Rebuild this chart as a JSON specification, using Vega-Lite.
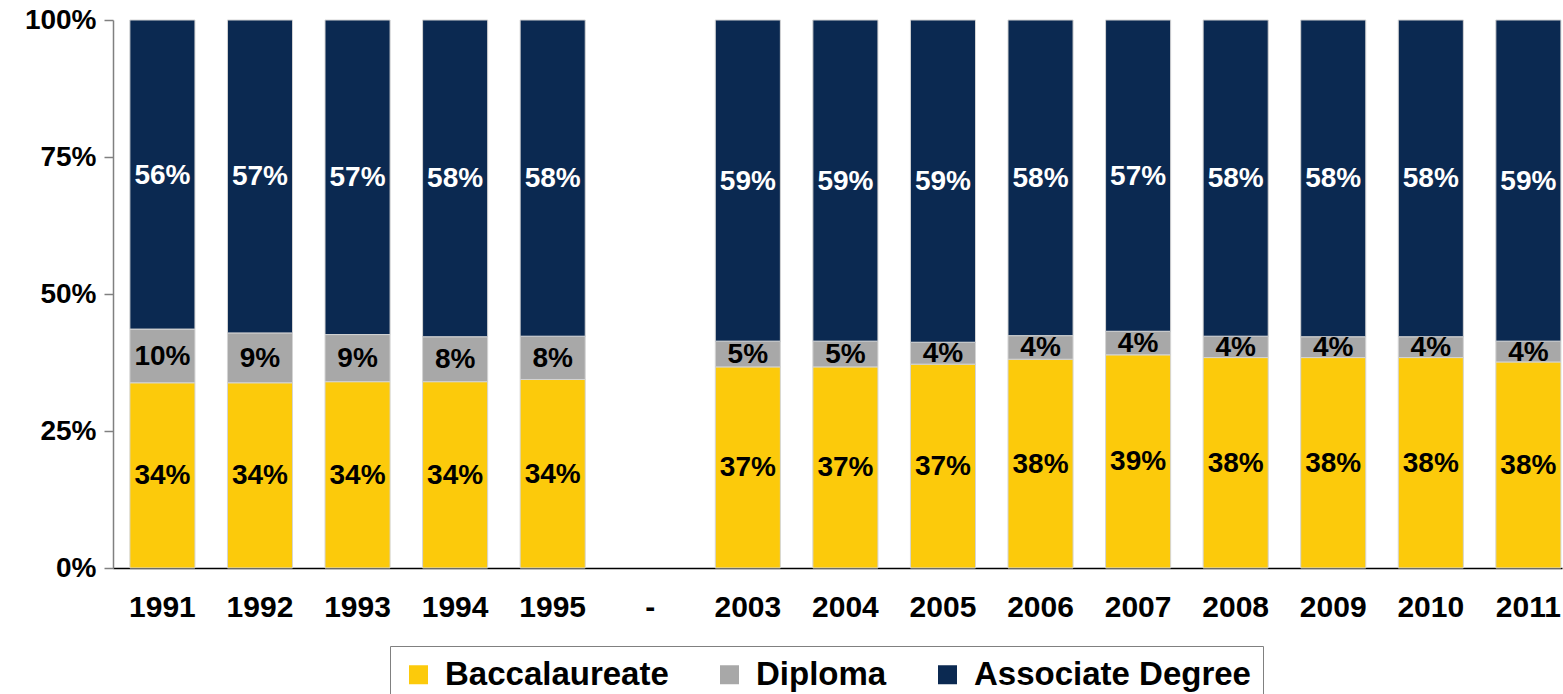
{
  "$schema": "https://vega.github.io/schema/vega-lite/v6.json",
  "autosize": {"type": "none"},
  "width": 1449,
  "height": 548,
  "padding": {"left": 113, "top": 20, "right": 1, "bottom": 126},
  "background": "white",
  "config": {"view": {"stroke": null}, "font": "Liberation Sans"},
  "data": {
    "values": [
      {"year": "1991", "type": "Baccalaureate", "k": 1, "v": 0.338},
      {"year": "1991", "type": "Diploma", "k": 2, "v": 0.098},
      {"year": "1991", "type": "Associate Degree", "k": 3, "v": 0.564},
      {"year": "1992", "type": "Baccalaureate", "k": 1, "v": 0.338},
      {"year": "1992", "type": "Diploma", "k": 2, "v": 0.091},
      {"year": "1992", "type": "Associate Degree", "k": 3, "v": 0.571},
      {"year": "1993", "type": "Baccalaureate", "k": 1, "v": 0.340},
      {"year": "1993", "type": "Diploma", "k": 2, "v": 0.086},
      {"year": "1993", "type": "Associate Degree", "k": 3, "v": 0.574},
      {"year": "1994", "type": "Baccalaureate", "k": 1, "v": 0.340},
      {"year": "1994", "type": "Diploma", "k": 2, "v": 0.082},
      {"year": "1994", "type": "Associate Degree", "k": 3, "v": 0.578},
      {"year": "1995", "type": "Baccalaureate", "k": 1, "v": 0.344},
      {"year": "1995", "type": "Diploma", "k": 2, "v": 0.079},
      {"year": "1995", "type": "Associate Degree", "k": 3, "v": 0.577},
      {"year": "2003", "type": "Baccalaureate", "k": 1, "v": 0.367},
      {"year": "2003", "type": "Diploma", "k": 2, "v": 0.047},
      {"year": "2003", "type": "Associate Degree", "k": 3, "v": 0.586},
      {"year": "2004", "type": "Baccalaureate", "k": 1, "v": 0.367},
      {"year": "2004", "type": "Diploma", "k": 2, "v": 0.047},
      {"year": "2004", "type": "Associate Degree", "k": 3, "v": 0.586},
      {"year": "2005", "type": "Baccalaureate", "k": 1, "v": 0.372},
      {"year": "2005", "type": "Diploma", "k": 2, "v": 0.040},
      {"year": "2005", "type": "Associate Degree", "k": 3, "v": 0.588},
      {"year": "2006", "type": "Baccalaureate", "k": 1, "v": 0.381},
      {"year": "2006", "type": "Diploma", "k": 2, "v": 0.043},
      {"year": "2006", "type": "Associate Degree", "k": 3, "v": 0.576},
      {"year": "2007", "type": "Baccalaureate", "k": 1, "v": 0.389},
      {"year": "2007", "type": "Diploma", "k": 2, "v": 0.043},
      {"year": "2007", "type": "Associate Degree", "k": 3, "v": 0.568},
      {"year": "2008", "type": "Baccalaureate", "k": 1, "v": 0.384},
      {"year": "2008", "type": "Diploma", "k": 2, "v": 0.039},
      {"year": "2008", "type": "Associate Degree", "k": 3, "v": 0.577},
      {"year": "2009", "type": "Baccalaureate", "k": 1, "v": 0.384},
      {"year": "2009", "type": "Diploma", "k": 2, "v": 0.038},
      {"year": "2009", "type": "Associate Degree", "k": 3, "v": 0.578},
      {"year": "2010", "type": "Baccalaureate", "k": 1, "v": 0.384},
      {"year": "2010", "type": "Diploma", "k": 2, "v": 0.038},
      {"year": "2010", "type": "Associate Degree", "k": 3, "v": 0.578},
      {"year": "2011", "type": "Baccalaureate", "k": 1, "v": 0.376},
      {"year": "2011", "type": "Diploma", "k": 2, "v": 0.038},
      {"year": "2011", "type": "Associate Degree", "k": 3, "v": 0.586}
    ]
  },
  "encoding": {
    "x": {
      "field": "year",
      "type": "nominal",
      "sort": null,
      "scale": {
        "type": "band",
        "domain": ["1991", "1992", "1993", "1994", "1995", "-", "2003", "2004", "2005", "2006", "2007", "2008", "2009", "2010", "2011"],
        "paddingInner": 0.333,
        "paddingOuter": 0.092,
        "align": 0.94
      },
      "axis": {
        "title": null,
        "labelAngle": 0,
        "ticks": false,
        "domainColor": "#000000",
        "domainWidth": 1.5,
        "labelFont": "Liberation Sans",
        "labelFontWeight": "bold",
        "labelFontSize": 30,
        "labelColor": "#000000",
        "labelPadding": 24
      }
    }
  },
  "layer": [
    {
      "mark": {"type": "bar", "stroke": "#d4d4d4", "strokeWidth": 1},
      "encoding": {
        "y": {
          "field": "v",
          "type": "quantitative",
          "stack": "zero",
          "scale": {"domain": [0, 1]},
          "axis": {
            "title": null,
            "values": [0, 0.25, 0.5, 0.75, 1],
            "format": ".0%",
            "grid": false,
            "domainColor": "#808080",
            "domainWidth": 1.5,
            "tickColor": "#808080",
            "tickWidth": 1.5,
            "tickSize": 9,
            "labelPadding": 8,
            "labelFont": "Liberation Sans",
            "labelFontWeight": "bold",
            "labelFontSize": 28,
            "labelColor": "#000000"
          }
        },
        "order": {"field": "k", "type": "quantitative", "sort": "ascending"},
        "color": {
          "field": "type",
          "type": "nominal",
          "scale": {
            "domain": ["Baccalaureate", "Diploma", "Associate Degree"],
            "range": ["#FCCA0B", "#A8A8A8", "#0B2951"]
          },
          "legend": {
            "title": null,
            "orient": "none",
            "legendX": 277,
            "legendY": 626,
            "direction": "horizontal",
            "symbolType": "square",
            "symbolSize": 361,
            "symbolStrokeWidth": 0,
            "labelFont": "Liberation Sans",
            "labelFontWeight": "bold",
            "labelFontSize": 33,
            "labelColor": "#000000",
            "labelOffset": 10,
            "labelLimit": 400,
            "columnPadding": 44,
            "padding": 12,
            "strokeColor": "#808080",
            "fillColor": "#ffffff"
          }
        }
      }
    },
    {
      "transform": [
        {"stack": "v", "groupby": ["year"], "sort": [{"field": "k", "order": "ascending"}], "as": ["v0", "v1"]},
        {"calculate": "(datum.v0 + datum.v1) / 2", "as": "mid"}
      ],
      "mark": {
        "type": "text",
        "font": "Liberation Sans",
        "fontWeight": "bold",
        "fontSize": 28,
        "baseline": "middle",
        "align": "center",
        "dy": 1
      },
      "encoding": {
        "y": {"field": "mid", "type": "quantitative"},
        "text": {"field": "v", "type": "quantitative", "format": ".0%"},
        "color": {
          "condition": {"test": "datum.type === 'Associate Degree'", "value": "#ffffff"},
          "value": "#000000"
        }
      }
    }
  ]
}
